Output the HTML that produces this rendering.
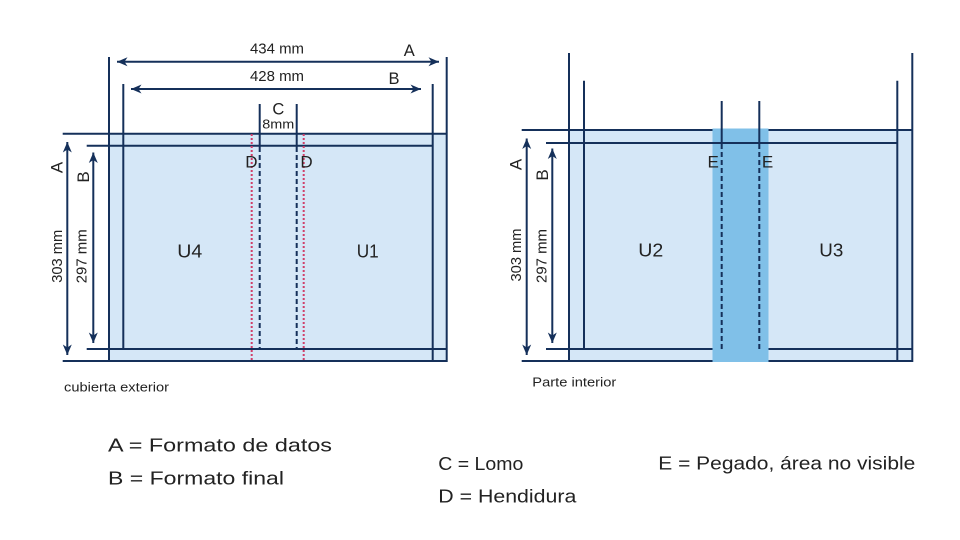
<!DOCTYPE html>
<html>
<head>
<meta charset="utf-8">
<style>
  html,body{margin:0;padding:0;background:#fff;}
  svg{display:block;}
  text{font-family:"Liberation Sans", sans-serif; fill:#222;}
</style>
</head>
<body>
<svg width="960" height="540" viewBox="0 0 960 540" xmlns="http://www.w3.org/2000/svg">
  <defs>
    <marker id="ah" viewBox="-11 -5 12 10" refX="0" refY="0" markerWidth="12" markerHeight="10" markerUnits="userSpaceOnUse" orient="auto-start-reverse">
      <path d="M0,0 L-10.5,-4.5 L-7.5,0 L-10.5,4.5 Z" fill="#15305a"/>
    </marker>
  </defs>
  <rect width="960" height="540" fill="#fff"/>

  <!-- ================= LEFT DIAGRAM ================= -->
  <rect x="109" y="134" width="338" height="227" fill="#d5e7f7"/>
  <g stroke="#15305a" stroke-width="2" fill="none">
    <line x1="109" y1="57" x2="109" y2="362"/>
    <line x1="446.7" y1="57" x2="446.7" y2="362"/>
    <line x1="123.3" y1="84" x2="123.3" y2="349"/>
    <line x1="432.7" y1="84" x2="432.7" y2="362"/>
    <line x1="62.7" y1="133.7" x2="447.5" y2="133.7"/>
    <line x1="86.7" y1="145.7" x2="432.7" y2="145.7"/>
    <line x1="86.7" y1="349" x2="447.5" y2="349"/>
    <line x1="62.7" y1="361" x2="447.5" y2="361"/>
    <line x1="259.7" y1="104" x2="259.7" y2="147"/>
    <line x1="296.7" y1="104" x2="296.7" y2="147"/>
    <line x1="259.7" y1="147" x2="259.7" y2="349" stroke-dasharray="5 3"/>
    <line x1="296.7" y1="147" x2="296.7" y2="349" stroke-dasharray="5 3"/>
  </g>
  <g stroke="#d0406a" stroke-width="2" stroke-dasharray="2 2">
    <line x1="251.7" y1="134" x2="251.7" y2="361"/>
    <line x1="303.7" y1="134" x2="303.7" y2="361"/>
  </g>
  <g stroke="#15305a" stroke-width="2" marker-start="url(#ah)" marker-end="url(#ah)">
    <line x1="117" y1="61.7" x2="439" y2="61.7"/>
    <line x1="131" y1="89" x2="421" y2="89"/>
    <line x1="67.3" y1="142" x2="67.3" y2="355"/>
    <line x1="93.3" y1="152.5" x2="93.3" y2="343"/>
  </g>
  <text x="277" y="53.3" font-size="14.5" text-anchor="middle" textLength="54" lengthAdjust="spacingAndGlyphs">434 mm</text>
  <text x="277" y="81" font-size="14.5" text-anchor="middle" textLength="54" lengthAdjust="spacingAndGlyphs">428 mm</text>
  <text x="409.2" y="56" font-size="16.5" text-anchor="middle">A</text>
  <text x="394" y="84" font-size="16.5" text-anchor="middle">B</text>
  <text x="278.3" y="114.3" font-size="16.5" text-anchor="middle">C</text>
  <text x="278.3" y="128.3" font-size="13" text-anchor="middle" textLength="32" lengthAdjust="spacingAndGlyphs">8mm</text>
  <text x="251.4" y="167.7" font-size="17" text-anchor="middle">D</text>
  <text x="306.5" y="167.7" font-size="17" text-anchor="middle">D</text>
  <text x="177.3" y="257.7" font-size="18" textLength="25" lengthAdjust="spacingAndGlyphs">U4</text>
  <text x="356.7" y="257.7" font-size="18" textLength="22" lengthAdjust="spacingAndGlyphs">U1</text>
  <text transform="translate(62.5,167.5) rotate(-90)" font-size="17" text-anchor="middle">A</text>
  <text transform="translate(89,177) rotate(-90)" font-size="17" text-anchor="middle">B</text>
  <text transform="translate(62,256.3) rotate(-90)" font-size="15" text-anchor="middle" textLength="53" lengthAdjust="spacingAndGlyphs">303 mm</text>
  <text transform="translate(86.5,256.3) rotate(-90)" font-size="15" text-anchor="middle" textLength="54" lengthAdjust="spacingAndGlyphs">297 mm</text>
  <text x="64" y="391.5" font-size="13" textLength="105" lengthAdjust="spacingAndGlyphs">cubierta exterior</text>

  <!-- ================= RIGHT DIAGRAM ================= -->
  <rect x="569" y="130" width="343.5" height="231" fill="#d5e7f7"/>
  <g stroke="#15305a" stroke-width="2" fill="none">
    <line x1="569" y1="53" x2="569" y2="362"/>
    <line x1="912.3" y1="53" x2="912.3" y2="362"/>
    <line x1="584" y1="80.7" x2="584" y2="349"/>
    <line x1="897.3" y1="80.7" x2="897.3" y2="362"/>
    <line x1="521.7" y1="130" x2="913" y2="130"/>
    <line x1="546" y1="349" x2="913" y2="349"/>
    <line x1="521.7" y1="361" x2="913" y2="361"/>
  </g>
  <rect x="712.5" y="128.5" width="56" height="233.5" fill="#80c0e8"/>
  <g stroke="#15305a" stroke-width="2" fill="none">
    <line x1="546" y1="143" x2="897.3" y2="143"/>
    <line x1="721.7" y1="101" x2="721.7" y2="144"/>
    <line x1="759.3" y1="101" x2="759.3" y2="144"/>
    <line x1="721.7" y1="144" x2="721.7" y2="349" stroke-dasharray="5 3"/>
    <line x1="759.3" y1="144" x2="759.3" y2="349" stroke-dasharray="5 3"/>
  </g>
  <g stroke="#15305a" stroke-width="2" marker-start="url(#ah)" marker-end="url(#ah)">
    <line x1="526.7" y1="138.5" x2="526.7" y2="355"/>
    <line x1="552.3" y1="148.5" x2="552.3" y2="343"/>
  </g>
  <text x="713.2" y="167.7" font-size="17" text-anchor="middle">E</text>
  <text x="767.5" y="167.7" font-size="17" text-anchor="middle">E</text>
  <text x="638.3" y="256.7" font-size="18" textLength="25" lengthAdjust="spacingAndGlyphs">U2</text>
  <text x="819.3" y="256.7" font-size="18" textLength="24" lengthAdjust="spacingAndGlyphs">U3</text>
  <text transform="translate(521.5,164.5) rotate(-90)" font-size="17" text-anchor="middle">A</text>
  <text transform="translate(548,175) rotate(-90)" font-size="17" text-anchor="middle">B</text>
  <text transform="translate(521,255) rotate(-90)" font-size="15" text-anchor="middle" textLength="53" lengthAdjust="spacingAndGlyphs">303 mm</text>
  <text transform="translate(546.5,256) rotate(-90)" font-size="15" text-anchor="middle" textLength="54" lengthAdjust="spacingAndGlyphs">297 mm</text>
  <text x="532.3" y="386.5" font-size="13" textLength="84" lengthAdjust="spacingAndGlyphs">Parte interior</text>

  <!-- ================= LEGEND ================= -->
  <text x="108" y="451.7" font-size="18.5" textLength="224" lengthAdjust="spacingAndGlyphs">A = Formato de datos</text>
  <text x="108" y="484.3" font-size="18.5" textLength="176" lengthAdjust="spacingAndGlyphs">B = Formato final</text>
  <text x="438.3" y="470" font-size="18.5" textLength="85" lengthAdjust="spacingAndGlyphs">C = Lomo</text>
  <text x="438.3" y="502.7" font-size="18.5" textLength="138" lengthAdjust="spacingAndGlyphs">D = Hendidura</text>
  <text x="658.3" y="469.5" font-size="18.5" textLength="257" lengthAdjust="spacingAndGlyphs">E = Pegado, área no visible</text>
</svg>
</body>
</html>
